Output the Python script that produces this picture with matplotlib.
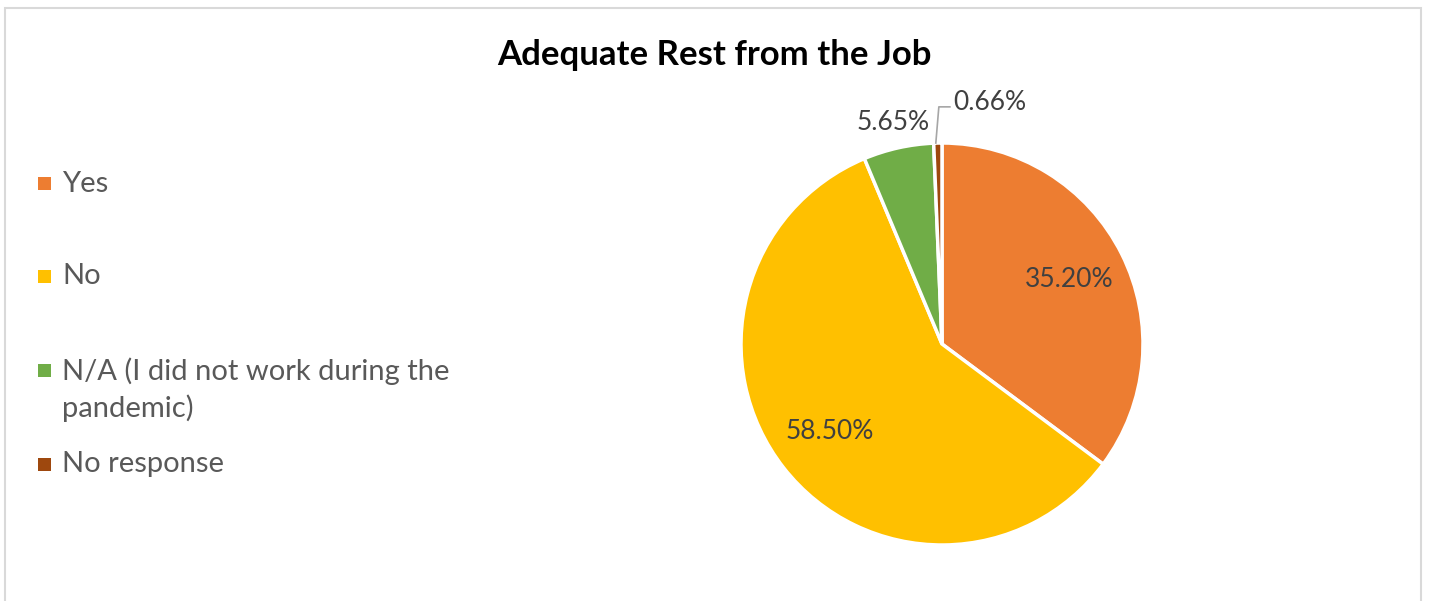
import numpy as np
import matplotlib.pyplot as plt
from matplotlib.patches import Rectangle

# Survey answers: adequate rest from the job
categories = ["Yes", "No", "N/A (I did not work during the\npandemic)", "No response"]
shares = [35.20, 58.50, 5.65, 0.66]
colors = ["#ED7D31", "#FFC000", "#70AD47", "#9E480E"]
label_dist = [0.71, 0.71, 1.13, None]

W, H = 1429, 601
plt.rcParams["font.family"] = ["Lato", "DejaVu Sans"]

fig = plt.figure(figsize=(W / 100, H / 100), dpi=100)

# light grey frame around the chart area (bottom edge runs off the page)
fig.patches.append(Rectangle((5 / W, -0.05), 1416 / W, (H - 8) / H + 0.05,
                             transform=fig.transFigure, fill=False,
                             edgecolor="#D9D9D9", linewidth=1.5))

fig.text(714 / W, 1 - 55 / H, "Adequate Rest from the Job", ha="center", va="center",
         fontsize=25, fontweight="bold", color="black")

# pie placed in pixel terms: centre (942, 344), radius 201
cx, cy, r = 942, 344, 201
ax = fig.add_axes([(cx - r) / W, (H - cy - r) / H, 2 * r / W, 2 * r / H])
wedges, _ = ax.pie(shares, colors=colors, startangle=90, counterclock=False,
                   wedgeprops=dict(edgecolor="white", linewidth=2.5))
ax.set_xlim(-1, 1)
ax.set_ylim(-1, 1)
ax.axis("off")

for w, val, d in zip(wedges, shares, label_dist):
    mid = np.deg2rad((w.theta1 + w.theta2) / 2)
    if d is None:
        # tiny slice: leader line from the rim up to the label
        x0, y0 = np.cos(mid), np.sin(mid)
        ax.plot([x0 - 0.01, x0 + 0.005, x0 + 0.06], [y0, y0 + 0.18, y0 + 0.18],
                color="#A6A6A6", linewidth=1.2, clip_on=False)
        ax.text(x0 + 0.075, y0 + 0.2, f"{val:.2f}%", ha="left", va="center",
                fontsize=19, color="#404040", clip_on=False)
    else:
        ax.text(d * np.cos(mid), d * np.sin(mid), f"{val:.2f}%", ha="center",
                va="center", fontsize=19, color="#404040", clip_on=False)

# legend drawn by hand so the square sits beside the first line of each entry
legend_y = [184, 276, 370, 464]
for lab, col, y in zip(categories, colors, legend_y):
    fig.patches.append(Rectangle((38 / W, 1 - (y + 6.5) / H), 13 / W, 13 / H,
                                 transform=fig.transFigure, facecolor=col,
                                 edgecolor="none"))
    fig.text(62 / W, 1 - (y - 13) / H, lab, ha="left", va="top", fontsize=21,
             color="#595959", linespacing=1.45)

fig.savefig("out.png", dpi=100)
